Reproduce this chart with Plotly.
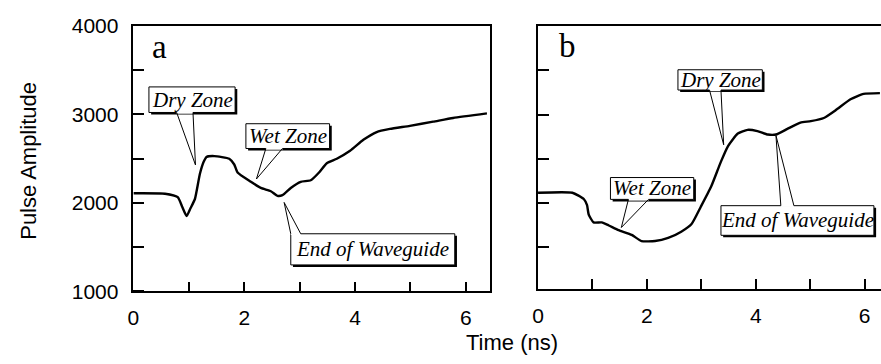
import plotly.graph_objects as go

# ---------------- data ----------------
time_a = [0.0, 0.57, 0.80, 0.88, 0.96, 1.03, 1.11, 1.20, 1.27, 1.32, 1.46, 1.73, 1.82,
          1.88, 2.12, 2.30, 2.48, 2.60, 2.69, 2.84, 3.02, 3.20, 3.35, 3.49, 3.67, 3.91,
          4.15, 4.39, 4.63, 4.99, 5.41, 5.77, 6.38]
amp_a = [2110, 2105, 2066, 1958, 1852, 1940, 2045, 2330, 2468, 2520, 2530, 2500, 2435,
         2345, 2240, 2170, 2133, 2080, 2088, 2170, 2240, 2257, 2345, 2450, 2500, 2590,
         2714, 2802, 2837, 2872, 2919, 2961, 3013]

time_b = [0.0, 0.63, 0.84, 0.90, 0.93, 1.02, 1.17, 1.30, 1.48, 1.72, 1.90, 2.15, 2.39,
          2.63, 2.82, 2.99, 3.18, 3.36, 3.49, 3.67, 3.85, 4.03, 4.22, 4.37, 4.58, 4.82,
          5.01, 5.25, 5.49, 5.74, 5.98, 6.28]
amp_b = [2116, 2116, 2045, 1975, 1870, 1781, 1781, 1746, 1693, 1640, 1570, 1570, 1605,
         1676, 1763, 1958, 2186, 2468, 2644, 2785, 2827, 2813, 2774, 2774, 2837, 2908,
         2925, 2961, 3059, 3172, 3233, 3242]

x_ticks = [0, 1, 2, 3, 4, 5, 6]
x_tick_labels = ["0", "", "2", "", "4", "", "6"]
y_ticks = [1000, 1500, 2000, 2500, 3000, 3500, 4000]
y_tick_labels = ["1000", "", "2000", "", "3000", "", "4000"]

panel_labels = ["a", "b"]
x_title = "Time (ns)"
y_title = "Pulse Amplitude"

# callouts: text, box (t0, t1, v0, v1), wedge base (ta, tb), tip (t, v)
callouts_a = [
    ("Dry Zone", (0.28, 1.835, 3023, 3312), (0.78, 1.075), (1.12, 2430)),
    ("Wet Zone", (2.03, 3.54, 2616, 2896), (2.39, 2.69), (2.22, 2271)),
    ("End of Waveguide", (2.84, 5.80, 1300, 1652), (2.84, 3.02), (2.72, 2006)),
]
callouts_b = [
    ("Wet Zone", (1.33, 2.86, 2041, 2288), (1.66, 2.03), (1.53, 1723)),
    ("Dry Zone", (2.57, 4.12, 3277, 3506), (3.15, 3.36), (3.41, 2658)),
    ("End of Waveguide", (3.36, 6.17, 1635, 1970), (4.46, 4.70), (4.37, 2764)),
]

# ---------------- figure ----------------
W, H = 881, 364
fig = go.Figure()
line_style = dict(color="black", width=2.4, shape="spline", smoothing=0.5)
fig.add_trace(go.Scatter(x=time_a, y=amp_a, mode="lines", line=line_style,
                         xaxis="x", yaxis="y", showlegend=False, hoverinfo="skip"))
fig.add_trace(go.Scatter(x=time_b, y=amp_b, mode="lines", line=line_style,
                         xaxis="x2", yaxis="y2", showlegend=False, hoverinfo="skip"))

tick_font = dict(family="Liberation Sans, Arial, sans-serif", size=21, color="black")
common_x = dict(tickmode="array", tickvals=x_ticks, ticktext=x_tick_labels,
                ticks="inside", ticklen=10, tickwidth=1.5, tickcolor="black",
                showline=True, linecolor="black", linewidth=1.5, mirror=True,
                showgrid=False, zeroline=False, tickfont=tick_font,
                ticklabelstandoff=7)
axis_line = dict(showline=True, linecolor="black", linewidth=1.5,
                 showgrid=False, zeroline=False)

fig.update_layout(
    width=W, height=H,
    margin=dict(l=0, r=0, t=0, b=0),
    paper_bgcolor="white", plot_bgcolor="white",
    xaxis=dict(domain=[128.3 / W, 487 / W], range=[0, 6.43], anchor="y", **common_x),
    # panel a: invisible outside major ticks push labels off the frame,
    # visible inside ticks are drawn as minor ticks (offset a hair so none is dropped)
    yaxis=dict(domain=[1 - 298.3 / H, 1 - 15 / H], range=[1000, 4000], anchor="x",
               mirror=True, tickmode="array", tickvals=y_ticks, ticktext=y_tick_labels,
               ticks="outside", ticklen=9, tickcolor="rgba(0,0,0,0)", tickfont=tick_font,
               minor=dict(tickmode="linear", tick0=1000.5, dtick=500, ticks="inside",
                          ticklen=11, tickwidth=1.5, tickcolor="black", showgrid=False),
               **axis_line),
    xaxis2=dict(domain=[535.7 / W, 1.0], range=[0, 6.30], anchor="y2", **common_x),
    yaxis2=dict(domain=[1 - 295.7 / H, 1 - 15 / H], range=[1028, 4000], anchor="x2",
                mirror=False, showticklabels=False, tickmode="array", tickvals=y_ticks,
                ticks="inside", ticklen=11, tickwidth=1.5, tickcolor="black",
                **axis_line),
)

shapes = []
annotations = []
dt_a, dt_b, dv = 2.2 / 55.8, 2.2 / 54.8, 2.2 / 0.09443
ann_font = dict(family="Liberation Serif", size=21, color="black")

for callouts, xr, yr, dt in ((callouts_a, "x", "y", dt_a), (callouts_b, "x2", "y2", dt_b)):
    for text, (t0, t1, v0, v1), (ta, tb), (tt, vt) in callouts:
        vb = v1 if vt > v1 else v0
        # drop shadow
        shapes.append(dict(type="rect", xref=xr, yref=yr, x0=t0 + dt, x1=t1 + dt,
                           y0=v0 - dv, y1=v1 - dv, fillcolor="black",
                           line=dict(width=0), layer="above"))
        # box
        shapes.append(dict(type="rect", xref=xr, yref=yr, x0=t0, x1=t1, y0=v0, y1=v1,
                           fillcolor="white", line=dict(color="black", width=1),
                           layer="above"))
        # open gap in box edge where wedge attaches
        shapes.append(dict(type="line", xref=xr, yref=yr, x0=ta, x1=tb, y0=vb, y1=vb,
                           line=dict(color="white", width=2.5), layer="above"))
        # wedge
        shapes.append(dict(type="path", xref=xr, yref=yr,
                           path=f"M {ta},{vb} L {tt},{vt} L {tb},{vb}",
                           line=dict(color="black", width=1), layer="above"))
        annotations.append(dict(text=f"<i>{text}</i>", xref=xr, yref=yr, x=(t0 + t1) / 2,
                                y=(v0 + v1) / 2, showarrow=False, font=ann_font,
                                xanchor="center", yanchor="middle"))

# panel letters
letter_font = dict(family="Liberation Serif", size=33, color="black")
annotations.append(dict(text=panel_labels[0], xref="paper", yref="paper", x=155 / W,
                        y=1 - 37.5 / H, showarrow=False, font=letter_font,
                        xanchor="center", yanchor="middle"))
annotations.append(dict(text=panel_labels[1], xref="paper", yref="paper", x=565 / W,
                        y=1 - 36 / H, showarrow=False, font=letter_font,
                        xanchor="center", yanchor="middle"))

title_font = dict(family="Liberation Sans, Arial, sans-serif", size=22, color="black")
annotations.append(dict(text=y_title, xref="paper", yref="paper", x=23 / W, y=1 - 159 / H,
                        textangle=-90, showarrow=False, font=title_font,
                        xanchor="center", yanchor="middle"))
annotations.append(dict(text=x_title, xref="paper", yref="paper", x=509 / W, y=1 - 353 / H,
                        showarrow=False, font=title_font,
                        xanchor="center", yanchor="middle"))

fig.update_layout(shapes=shapes, annotations=annotations)
fig.write_html("out.html")
